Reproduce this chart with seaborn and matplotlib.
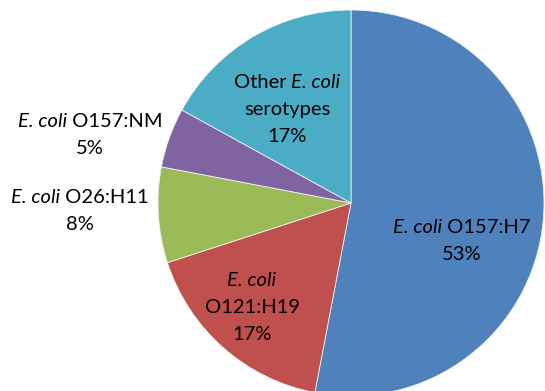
import matplotlib
matplotlib.use("Agg")
import matplotlib.pyplot as plt
import seaborn as sns

# ---- data ----
categories = ["E. coli O157:H7", "E. coli O121:H19", "E. coli O26:H11",
              "E. coli O157:NM", "Other E. coli serotypes"]
shares = [53, 17, 8, 5, 17]
percent_labels = ["53%", "17%", "8%", "5%", "17%"]
colors = ["#4F81BD", "#C0504D", "#9BBB59", "#8064A2", "#4BACC6"]

# label lines as (text, italic) segments
label_lines = [
    [[("E. coli", True), (" O157:H7", False)]],
    [[("E. coli", True)], [("O121:H19", False)]],
    [[("E. coli", True), (" O26:H11", False)]],
    [[("E. coli", True), (" O157:NM", False)]],
    [[("Other ", False), ("E. coli", True)], [("serotypes", False)]],
]

sns.set_theme(style="white")
plt.rcParams["font.family"] = ["Lato", "DejaVu Sans"]
sns.set_palette(colors)

W, H = 545, 391
fig = plt.figure(figsize=(W / 100, H / 100), dpi=100)
ax = fig.add_axes([0, 0, 1, 1])

cx, cy, R = 351, 203, 193
ax.pie(shares, colors=sns.color_palette(colors), startangle=90, counterclock=False,
       center=(cx, H - cy), radius=R,
       wedgeprops=dict(edgecolor="#f0f0f0", linewidth=0.6))
ax.set_xlim(0, W)
ax.set_ylim(0, H)
ax.set_aspect("equal")
ax.axis("off")

# label layout: (center x, first baseline y) in image pixels
label_pos = [(462, 233), (252, 286), (80, 203), (90, 127), (287, 88)]
line_step = 27
fs = 14.5

renderer = fig.canvas.get_renderer()
for lines, pct, (lx, ly) in zip(label_lines, percent_labels, label_pos):
    all_lines = lines + [[(pct, False)]]
    for i, segs in enumerate(all_lines):
        base = H - (ly + i * line_step)
        texts = []
        total = 0
        for s, it in segs:
            t = ax.text(0, base, s, fontsize=fs, style="italic" if it else "normal",
                        color="black", ha="left", va="baseline")
            w = t.get_window_extent(renderer).width
            texts.append((t, w))
            total += w
        x0 = lx - total / 2
        for t, w in texts:
            t.set_x(x0)
            x0 += w

fig.savefig("out.png", dpi=100)
